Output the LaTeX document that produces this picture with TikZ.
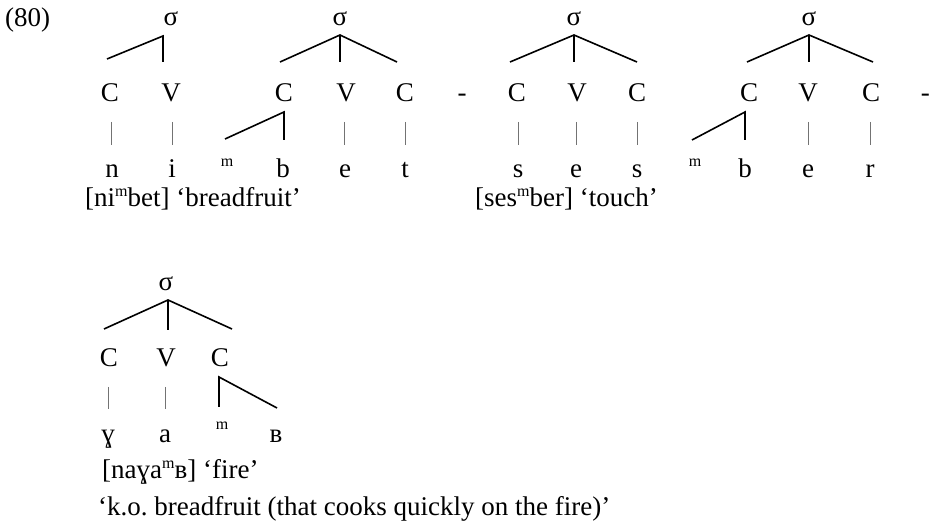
\documentclass[tikz,border=0pt]{standalone}
\usepackage{fontspec}
\setmainfont{Liberation Serif}
\newcommand\supm[1]{\raisebox{10pt}{\fontsize{16}{16}\selectfont #1}}
\begin{document}
\frenchspacing
\begin{tikzpicture}[x=1pt,y=-1pt,
  lbl/.style={anchor=base,inner sep=0pt,font=\fontsize{27}{31}\selectfont},
  smallm/.style={anchor=base,inner sep=0pt,font=\fontsize{16}{18}\selectfont},
  txt/.style={anchor=base west,inner sep=0pt,font=\fontsize{27}{31}\selectfont},
  branch/.style={line width=1.6pt,black},
  assoc/.style={line width=1pt,black!55}]
\useasboundingbox (0,0) rectangle (930,526);

\node[txt] (ex) at (5,27) {(80)};

% ---------- tree 1 : ni
\node[lbl] (s1) at (171,26) {σ};
\coordinate (a1) at (163,36);
\coordinate (a1l) at (107,59);
\coordinate (a1m) at (163,62);
\node[lbl] (c1) at (110,102) {C};
\node[lbl] (v1) at (171,102) {V};
\node[lbl] (n1) at (112,178) {n};
\node[lbl] (i1) at (172,178) {i};
\coordinate (b1t) at (111,122); \coordinate (b1b) at (111,145);
\coordinate (b2t) at (172,122); \coordinate (b2b) at (172,145);
\draw[branch] (a1l) -- (a1) -- (a1m);
\draw[assoc] (b1t) -- (b1b);
\draw[assoc] (b2t) -- (b2b);

% ---------- tree 2 : mbet
\node[lbl] (s2) at (340,26) {σ};
\coordinate (a2) at (340,35);
\coordinate (a2l) at (280,62);
\coordinate (a2m) at (340,62);
\coordinate (a2r) at (397,62);
\node[lbl] (c2) at (284,102) {C};
\node[lbl] (v2) at (346,102) {V};
\node[lbl] (c3) at (405,102) {C};
\coordinate (d2) at (284,112);
\coordinate (d2l) at (225,139);
\coordinate (d2m) at (284,140);
\node[smallm] (m2) at (227,167) {m};
\node[lbl] (bb2) at (283,178) {b};
\node[lbl] (e2) at (345,178) {e};
\node[lbl] (t2) at (405,178) {t};
\coordinate (b3t) at (344,122); \coordinate (b3b) at (344,145);
\coordinate (b4t) at (405,122); \coordinate (b4b) at (405,145);
\draw[branch] (a2l) -- (a2) -- (a2r);
\draw[branch] (a2) -- (a2m);
\draw[branch] (d2l) -- (d2) -- (d2m);
\draw[assoc] (b3t) -- (b3b);
\draw[assoc] (b4t) -- (b4b);

\node[lbl] (h1) at (462,102) {-};

% ---------- tree 3 : ses
\node[lbl] (s3) at (574,26) {σ};
\coordinate (a3) at (574,35);
\coordinate (a3l) at (510,62);
\coordinate (a3m) at (574,62);
\coordinate (a3r) at (637,62);
\node[lbl] (c4) at (517,102) {C};
\node[lbl] (v3) at (577,102) {V};
\node[lbl] (c5) at (637,102) {C};
\node[lbl] (ss1) at (518,178) {s};
\node[lbl] (e3) at (576,178) {e};
\node[lbl] (ss2) at (637,178) {s};
\coordinate (b5t) at (518,122); \coordinate (b5b) at (518,145);
\coordinate (b6t) at (576,122); \coordinate (b6b) at (576,145);
\coordinate (b7t) at (637,122); \coordinate (b7b) at (637,145);
\draw[branch] (a3l) -- (a3) -- (a3r);
\draw[branch] (a3) -- (a3m);
\draw[assoc] (b5t) -- (b5b);
\draw[assoc] (b6t) -- (b6b);
\draw[assoc] (b7t) -- (b7b);

% ---------- tree 4 : mber
\node[lbl] (s4) at (809,26) {σ};
\coordinate (a4) at (809,35);
\coordinate (a4l) at (747,62);
\coordinate (a4m) at (809,62);
\coordinate (a4r) at (873,62);
\node[lbl] (c6) at (749,102) {C};
\node[lbl] (v4) at (808,102) {V};
\node[lbl] (c7) at (871,102) {C};
\coordinate (d4) at (745,112);
\coordinate (d4l) at (692,140);
\coordinate (d4m) at (745,140);
\node[smallm] (m4) at (695,167) {m};
\node[lbl] (bb4) at (745,178) {b};
\node[lbl] (e4) at (808,178) {e};
\node[lbl] (r4) at (870,178) {r};
\coordinate (b8t) at (808,122); \coordinate (b8b) at (808,145);
\coordinate (b9t) at (870,122); \coordinate (b9b) at (870,145);
\draw[branch] (a4l) -- (a4) -- (a4r);
\draw[branch] (a4) -- (a4m);
\draw[branch] (d4l) -- (d4) -- (d4m);
\draw[assoc] (b8t) -- (b8b);
\draw[assoc] (b9t) -- (b9b);

\node[lbl,anchor=base east] (h2) at (930,102) {-};

% glosses
\node[txt] (g1) at (85,207) {[ni\supm{m}bet] ‘breadfruit’};
\node[txt] (g2) at (475,207) {[ses\supm{m}ber] ‘touch’};

% ---------- tree 5 : naɣaᵐʙ
\node[lbl] (s5) at (166,291) {σ};
\coordinate (a5) at (168,300);
\coordinate (a5l) at (104,329);
\coordinate (a5m) at (168,330);
\coordinate (a5r) at (232,329);
\node[lbl] (c8) at (109,367) {C};
\node[lbl] (v5) at (166,367) {V};
\node[lbl] (c9) at (220,367) {C};
\coordinate (d5) at (219,377);
\coordinate (d5m) at (219,407);
\coordinate (d5r) at (277,408);
\node[lbl] (g5) at (108,443) {ɣ};
\node[lbl] (aa5) at (165,443) {a};
\node[smallm] (m5) at (222,430) {m};
\node[lbl] (tr5) at (276,443) {ʙ};
\coordinate (b10t) at (108,387); \coordinate (b10b) at (108,409);
\coordinate (b11t) at (165,387); \coordinate (b11b) at (165,409);
\draw[branch] (a5l) -- (a5) -- (a5r);
\draw[branch] (a5) -- (a5m);
\draw[branch] (d5m) -- (d5) -- (d5r);
\draw[assoc] (b10t) -- (b10b);
\draw[assoc] (b11t) -- (b11b);

\node[txt] (g3) at (102,479) {[naɣa\supm{m}ʙ] ‘fire’};
\node[txt] (g4) at (98,516) {‘k.o. breadfruit (that cooks quickly on the fire)’};
\end{tikzpicture}
\end{document}
